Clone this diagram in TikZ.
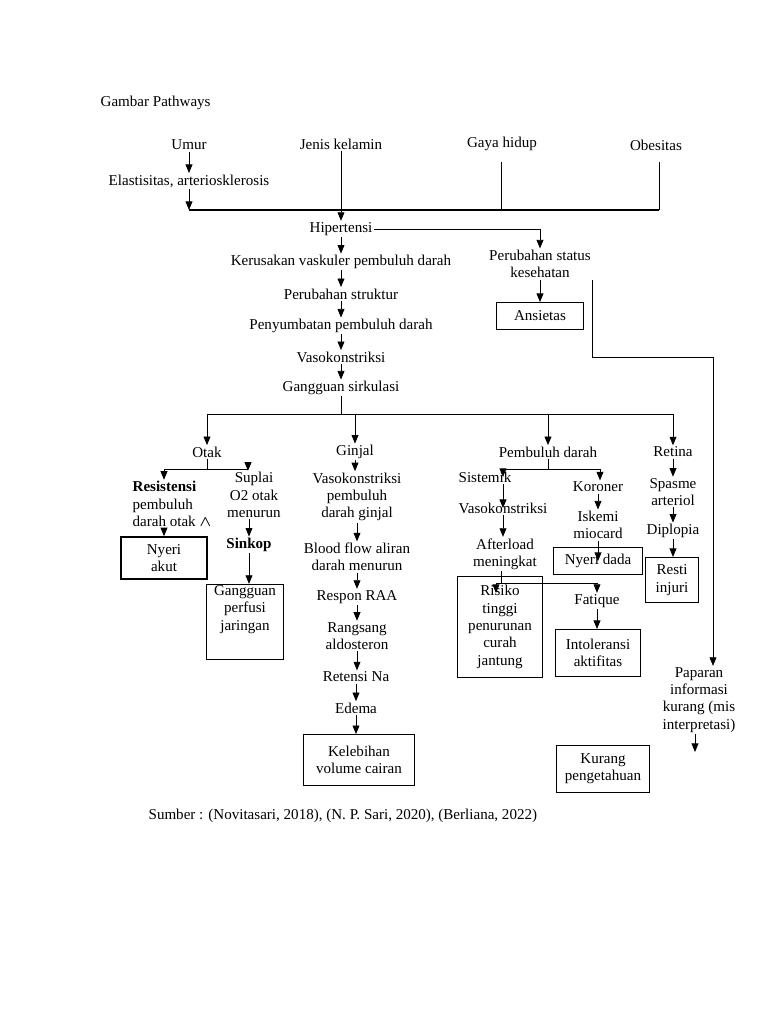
\documentclass[tikz,border=0pt]{standalone}
\usepackage{amsmath,amssymb}
\usepackage{fontspec}
\setmainfont{Liberation Serif}
\usetikzlibrary{arrows.meta}

\begin{document}
\begin{tikzpicture}[x=0.797pt, y=-0.797pt, line width=0.6pt,
    every node/.style={font=\fontsize{12}{13.8}\selectfont, inner sep=1pt, align=center},
    box/.style={draw, line width=0.8pt, inner sep=3pt},
    arr/.style={-{Triangle[width=5.5pt,length=6.8pt]}}]
  \fill[white] (0,0) rectangle (768,1024);
  \useasboundingbox (0,0) rectangle (768,1024);

  % faktor risiko
  \node[anchor=west] (title) at (99,103) {Gambar Pathways};
  \node (umur) at (189,145) {Umur};
  \node (jenis) at (341,144) {Jenis kelamin};
  \node (gaya) at (502,144) {Gaya hidup};
  \node (obesitas) at (656,145) {Obesitas};
  \node (elastis) at (189,181) {Elastisitas, arteriosklerosis};
  \coordinate (gayabawah) at (501,162);
  \coordinate (barL) at (189,210);
  \coordinate (barR) at (659,210);

  % jalur utama
  \node (hipertensi) at (341,229) {Hipertensi};
  \node (kerusakan) at (341,262) {Kerusakan vaskuler pembuluh darah};
  \node (struktur) at (341,294) {Perubahan struktur};
  \node (sumbatan) at (341,326) {Penyumbatan pembuluh darah};
  \node (vasokons) at (341,357) {Vasokonstriksi};
  \node (sirkulasi) at (341,388) {Gangguan sirkulasi};
  \coordinate (cabang) at (341,414);
  \node (statuskes) at (540,264) {Perubahan status\\kesehatan};
  \node[box, minimum width=69pt, minimum height=21.5pt] (ansietas) at (540,316) {Ansietas};

  % cabang
  \node (otak) at (207,452) {Otak};
  \node (ginjal) at (355,452) {Ginjal};
  \node (pembuluh) at (548,452) {Pembuluh darah};
  \node (retina) at (673,452) {Retina};

  % otak
  \coordinate (kiri) at (164,469);
  \coordinate (kanan) at (248,469);
  \node[anchor=west, align=left] (resistensi) at (131,504) {\textbf{Resistensi}\\pembuluh\\darah otak $\boldsymbol{\wedge}$};
  \node (suplai) at (254,495) {Suplai\\O2 otak\\menurun};
  \node[box, line width=1.3pt, minimum width=68.5pt, minimum height=33.5pt] (nyeriakut) at (164,558) {Nyeri\\akut};
  \node (sinkop) at (249,545) {\textbf{Sinkop}};
  \node[box, minimum width=62pt, minimum height=60pt,
    label={[anchor=north]north:Gangguan\\perfusi\\jaringan}] (perfusi) at (245,622) {};

  % ginjal
  \node (vasoginjal) at (357,497) {Vasokonstriksi\\pembuluh\\darah ginjal};
  \node (bloodflow) at (357,557) {Blood flow aliran\\darah menurun};
  \node (respon) at (357,597) {Respon RAA};
  \node (rangsang) at (357,636) {Rangsang\\aldosteron};
  \node (retensi) at (356,677) {Retensi Na};
  \node (edema) at (356,708) {Edema};
  \node[box, minimum width=87.7pt, minimum height=40.6pt] (kelebihan) at (359,760) {Kelebihan\\volume cairan};

  % pembuluh darah
  \coordinate (pdkiri) at (503,469);
  \coordinate (pdkanan) at (600,469);
  \node (sistemik) at (485,477) {Sistemik};
  \node (koroner) at (598,487) {Koroner};
  \node (vasosis) at (503,508) {Vasokonstriksi};
  \node (afterload) at (505,554) {Afterload\\meningkat};
  \coordinate (afcab) at (501,583);
  \coordinate (risikocol) at (496,583);
  \coordinate (risikotip) at (496,593);
  \node[box, minimum width=68.5pt, minimum height=80.5pt] (risiko) at (500,627) {Risiko\\tinggi\\penurunan\\curah\\jantung};
  \node (fatique) at (597,601) {Fatique};
  \node[box, minimum width=68.5pt, minimum height=37.5pt] (intoleransi) at (598,653) {Intoleransi\\aktifitas};
  \node (iskemi) at (598,525) {Iskemi\\miocard};
  \node[box, minimum width=71pt, minimum height=21.5pt] (nyeridada) at (598,561) {Nyeri dada};

  % retina
  \node (spasme) at (673,492) {Spasme\\arteriol};
  \node (diplopia) at (673,531) {Diplopia};
  \node[box, minimum width=42pt, minimum height=36pt] (resti) at (672,580) {Resti\\injuri};

  % pengetahuan
  \coordinate (belok) at (713,357);
  \node (paparan) at (699,700) {Paparan\\informasi\\kurang (mis\\interpretasi)};
  \coordinate (paparanujung) at (695,752);
  \node[box, minimum width=74pt, minimum height=37.5pt] (kurang) at (603,769) {Kurang\\pengetahuan};

  \node[anchor=west] (sumber) at (147,816) {Sumber : (Novitasari, 2018), (N. P. Sari, 2020), (Berliana, 2022)};

  % panah atas
  \draw[arr] (umur.south) -- (elastis.north);
  \draw[arr] (elastis.south) -- (barL);
  \draw[line width=1.3pt] (barL) -- (barR);
  \draw[arr] (jenis.south) -- (jenis.south |- hipertensi.north);
  \draw (gayabawah) -- (gayabawah |- barL);
  \draw (barR |- gayabawah) -- (barR);
  \draw[arr] (hipertensi.east) -| (statuskes.north);
  \draw[arr] (statuskes.south) -- (statuskes.south |- ansietas.north);
  \draw[arr] (statuskes.south east) |- (belok) -- (belok |- paparan.north);
  \draw[arr] (paparanujung |- paparan.south) -- (paparanujung);

  \draw[arr] (hipertensi.south) -- (hipertensi.south |- kerusakan.north);
  \draw[arr] (kerusakan.south) -- (kerusakan.south |- struktur.north);
  \draw[arr] (struktur.south) -- (struktur.south |- sumbatan.north);
  \draw[arr] (sumbatan.south) -- (sumbatan.south |- vasokons.north);
  \draw[arr] (vasokons.south) -- (vasokons.south |- sirkulasi.north);
  \draw (sirkulasi.south) -- (cabang);
  \draw (otak.north |- cabang) -- (retina.north |- cabang);
  \draw[arr] (otak.north |- cabang) -- (otak.north);
  \draw[arr] (ginjal.north |- cabang) -- (ginjal.north);
  \draw[arr] (pembuluh.north |- cabang) -- (pembuluh.north);
  \draw[arr] (retina.north |- cabang) -- (retina.north);

  % panah otak
  \draw (otak.south) -- (otak.south |- kiri);
  \draw (kiri) -- (kanan);
  \draw[arr] (kiri) -- (kiri |- resistensi.north);
  \draw[arr] (kanan) -- (kanan |- suplai.north);
  \draw[arr] (kiri |- resistensi.south) -- (kiri |- nyeriakut.north);
  \draw[arr] (sinkop.north |- suplai.south) -- (sinkop.north);
  \draw[arr] (sinkop.south) -- (sinkop.south |- perfusi.north);

  % panah ginjal
  \draw[arr] (ginjal.south) -- (ginjal.south |- vasoginjal.north);
  \draw[arr] (vasoginjal.south) -- (vasoginjal.south |- bloodflow.north);
  \draw[arr] (bloodflow.south) -- (bloodflow.south |- respon.north);
  \draw[arr] (respon.south) -- (respon.south |- rangsang.north);
  \draw[arr] (rangsang.south) -- (rangsang.south |- retensi.north);
  \draw[arr] (retensi.south) -- (retensi.south |- edema.north);
  \draw[arr] (edema.south) -- (edema.south |- kelebihan.north);

  % panah pembuluh darah
  \draw (pembuluh.south) -- (pembuluh.south |- pdkiri);
  \draw (pdkiri) -- (pdkanan);
  \draw[arr] (pdkiri) -- (pdkiri |- sistemik.center);
  \draw[arr] (pdkanan) -- (pdkanan |- koroner.north);
  \draw[arr] (vasosis.center |- sistemik.south) -- (vasosis.center);
  \draw[arr] (vasosis.south) -- (vasosis.south |- afterload.north);
  \draw (afcab |- afterload.south) -- (afcab);
  \draw[arr] (risikocol) -| (fatique.north);
  \draw[arr] (risikocol) -- (risikotip);
  \draw[arr] (fatique.south) -- (fatique.south |- intoleransi.north);
  \draw[arr] (koroner.south) -- (koroner.south |- iskemi.north);
  \draw[arr] (iskemi.south) -- (iskemi.south |- nyeridada.center);

  % panah retina
  \draw[arr] (retina.south) -- (retina.south |- spasme.north);
  \draw[arr] (spasme.south) -- (spasme.south |- diplopia.north);
  \draw[arr] (diplopia.south) -- (diplopia.south |- resti.north);
\end{tikzpicture}
\end{document}
